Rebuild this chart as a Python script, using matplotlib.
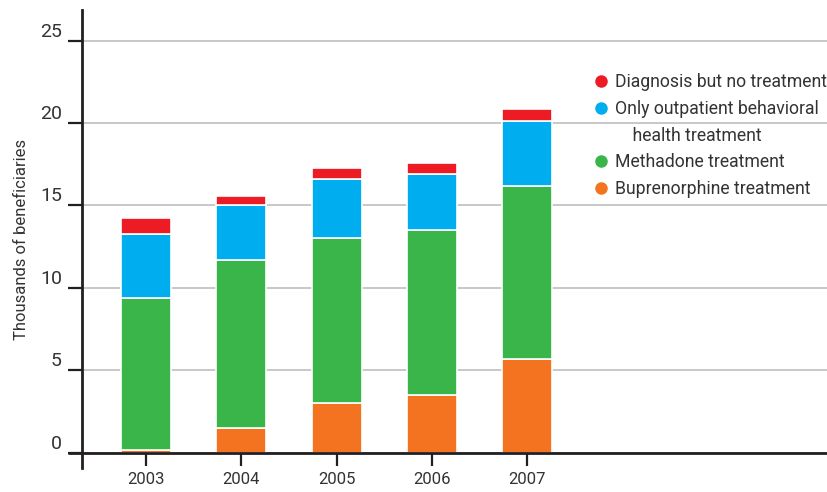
import matplotlib.pyplot as plt
from matplotlib.lines import Line2D

years = ["2003", "2004", "2005", "2006", "2007"]
buprenorphine = [0.2, 1.5, 3.0, 3.5, 5.7]
methadone = [9.2, 10.2, 10.0, 10.0, 10.5]
outpatient = [3.9, 3.3, 3.6, 3.4, 3.9]
diagnosis = [0.95, 0.6, 0.7, 0.7, 0.75]

colors = {"bup": "#F37321", "meth": "#39B54A", "out": "#00AEEF", "diag": "#ED1C24"}
dark = "#231F20"
text_color = "#333333"

plt.rcParams["font.family"] = ["Roboto", "DejaVu Sans"]

fig = plt.figure(figsize=(8.27, 4.92), dpi=100)
ax = fig.add_axes([0.0992, 0.0488, 0.9008, 0.9309])

x = list(range(len(years)))
w = 0.525
bottom = [0.0] * len(years)
for key, vals in [("bup", buprenorphine), ("meth", methadone),
                  ("out", outpatient), ("diag", diagnosis)]:
    ax.bar(x, vals, w, bottom=bottom, color=colors[key],
           edgecolor="white", linewidth=1.2, zorder=3)
    bottom = [b + v for b, v in zip(bottom, vals)]

ax.set_xlim(-0.672, 7.15)
ax.set_ylim(-0.91, 26.85)

ax.set_yticks([0, 5, 10, 15, 20, 25])
ax.yaxis.grid(True, color="#C8C8C8", linewidth=1.4, zorder=0)
ax.set_axisbelow(True)

for s in ["top", "right"]:
    ax.spines[s].set_visible(False)
ax.spines["bottom"].set_position(("data", 0))
ax.spines["bottom"].set_color(dark)
ax.spines["bottom"].set_linewidth(2)
ax.spines["bottom"].set_zorder(4)
ax.spines["left"].set_color(dark)
ax.spines["left"].set_linewidth(2)

# x axis line runs a bit past the y axis on the left
ax.plot([-0.82, -0.672], [0, 0], color=dark, linewidth=2, clip_on=False,
        solid_capstyle="butt", zorder=4)

ax.tick_params(axis="y", direction="out", length=10, width=1.6, color=dark,
               pad=4.5, labelsize=14, labelcolor=text_color)
for lab in ax.get_yticklabels():
    lab.set_va("bottom")
ax.set_xticks(x)
ax.set_xticklabels(years)
ax.tick_params(axis="x", direction="out", length=9, width=1.6, color=dark,
               pad=4.5, labelsize=12, labelcolor=text_color)

ax.set_ylabel("Thousands of beneficiaries", fontsize=12, color=text_color,
              labelpad=8)

handles = [
    Line2D([], [], marker="o", linestyle="", color=colors["diag"], markersize=8),
    Line2D([], [], marker="o", linestyle="", color=colors["out"], markersize=8),
    Line2D([], [], marker="", linestyle=""),
    Line2D([], [], marker="o", linestyle="", color=colors["meth"], markersize=8),
    Line2D([], [], marker="o", linestyle="", color=colors["bup"], markersize=8),
]
labels = ["Diagnosis but no treatment", "Only outpatient behavioral",
          "    health treatment", "Methadone treatment",
          "Buprenorphine treatment"]
leg = ax.legend(handles, labels, loc="upper left",
                bbox_to_anchor=(596 / 827, 1 - 73 / 492),
                bbox_transform=fig.transFigure, frameon=False,
                fontsize=12.7, handlelength=0.6, handletextpad=0.45,
                labelspacing=0.5, borderpad=0, borderaxespad=0)
for t in leg.get_texts():
    t.set_color(text_color)

fig.savefig("out.png", dpi=100)
